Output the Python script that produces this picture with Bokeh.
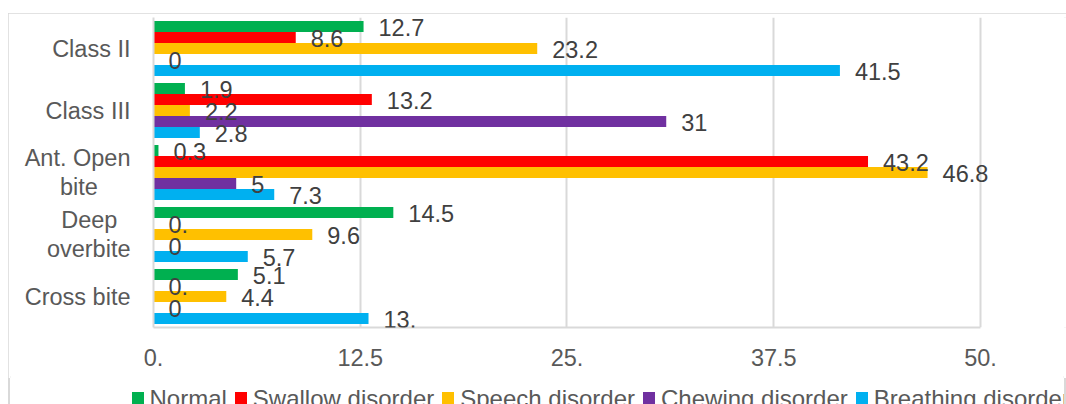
from bokeh.plotting import figure
from bokeh.layouts import column
from bokeh.models import (FactorRange, Range1d, FixedTicker, ColumnDataSource, LabelSet, Div)
from bokeh.transform import dodge
from bokeh.core.properties import value
from bokeh.embed import file_html
from bokeh.resources import INLINE

# ---- data ----
categories = ["Class II", "Class III", "Ant. Open\nbite     ", "Deep  \noverbite", "Cross bite"]
series = ["Normal", "Swallow disorder", "Speech disorder", "Chewing disorder", "Breathing disorder"]
colors = ["#00B050", "#FF0000", "#FFC000", "#7030A0", "#00B0F0"]

normal = [12.7, 1.9, 0.3, 14.5, 5.1]
swallow = [8.6, 13.2, 43.2, 0, 0]
speech = [23.2, 2.2, 46.8, 9.6, 4.4]
chewing = [0, 31, 5, 0, 0]
breathing = [41.5, 2.8, 7.3, 5.7, 13]

normal_labels = ["12.7", "1.9", "0.3", "14.5", "5.1"]
swallow_labels = ["8.6", "13.2", "43.2", "0.", "0."]
speech_labels = ["23.2", "2.2", "46.8", "9.6", "4.4"]
chewing_labels = ["0", "31", "5", "0", "0"]
breathing_labels = ["41.5", "2.8", "7.3", "5.7", "13."]

x_ticks = [0, 12.5, 25, 37.5, 50]
x_tick_labels = ["0.", "12.5", "25.", "37.5", "50."]

values = [normal, swallow, speech, chewing, breathing]
labels = [normal_labels, swallow_labels, speech_labels, chewing_labels, breathing_labels]

FONT = "Liberation Sans"
FS = "23.5px"
GRID = "#d9d9d9"

# ---- main plot ----
p = figure(width=1058, height=365, output_backend="svg", toolbar_location=None,
           y_range=FactorRange(factors=categories[::-1]), x_range=Range1d(0, 55.2),
           min_border_left=145, min_border_right=0, min_border_top=4, min_border_bottom=51)
p.outline_line_color = None
p.background_fill_color = "white"
p.border_fill_color = "white"
# chart-area border: top/left/right drawn around the plot element, bottom edge hidden
p.styles = {"outline": "2.5px solid #d9d9d9", "outline-offset": "-2.5px",
            "clip-path": ("polygon(0px 0px, 100% 0px, 100% 100%, calc(100% - 2.5px) 100%, "
                          "calc(100% - 2.5px) calc(100% - 2.5px), 2.5px calc(100% - 2.5px), "
                          "2.5px 100%, 0px 100%)")}

bar_h = 11 / 62
for i, (name, col, vals, labs) in enumerate(zip(series, colors, values, labels)):
    off = (2 - i) * bar_h
    src = ColumnDataSource(dict(cat=categories, v=vals, lbl=labs))
    p.hbar(y=dodge("cat", off, range=p.y_range), left=0, right="v", height=bar_h,
           source=src, fill_color=col, line_color=None, legend_label=name)
    p.add_layout(LabelSet(x="v", y=dodge("cat", off, range=p.y_range), text="lbl", source=src,
                          x_offset=15, y_offset=-1, text_align="left", text_baseline="middle",
                          text_font=value(FONT), text_font_size=FS, text_color="#404040"))
# the legend is shown as a strip below the plot (see Div); hide the in-frame one
p.legend.visible = False

p.xaxis.ticker = FixedTicker(ticks=x_ticks)
p.xaxis.bounds = (0, 50)
p.xaxis.major_label_overrides = dict(zip(x_ticks, x_tick_labels))
p.xaxis.axis_line_color = GRID
p.xaxis.axis_line_width = 2
p.xaxis.major_tick_line_color = None
p.xaxis.minor_tick_line_color = None
p.xaxis.major_label_standoff = 15
p.xaxis.major_label_text_font = FONT
p.xaxis.major_label_text_font_size = FS
p.xaxis.major_label_text_color = "#595959"

p.yaxis.axis_line_color = GRID
p.yaxis.axis_line_width = 2
p.yaxis.major_tick_line_color = None
p.yaxis.minor_tick_line_color = None
p.yaxis.major_label_standoff = 17
p.yaxis.major_label_text_font = FONT
p.yaxis.major_label_text_font_size = FS
p.yaxis.major_label_text_color = "#595959"
p.yaxis.major_label_text_line_height = 1.08

p.xgrid.ticker = FixedTicker(ticks=x_ticks)
p.xgrid.grid_line_color = GRID
p.xgrid.grid_line_width = 2
p.ygrid.grid_line_color = None

# ---- legend strip ----
item_html = "".join(
    f'<span style="display:inline-flex;align-items:center;margin-right:8px">'
    f'<span style="display:inline-block;width:12px;height:12px;background:{c};margin-right:6px"></span>'
    f'{n}</span>'
    for n, c in zip(series, colors))
legend_html = (f'<div style="box-sizing:border-box;width:1058px;height:26px;overflow:hidden;'
               f'border-left:2.5px solid {GRID};border-right:2.5px solid {GRID};'
               f'padding-left:121.5px;padding-top:4px;font-family:\'{FONT}\';font-size:24px;'
               f'line-height:27px;color:#595959;white-space:nowrap">{item_html}</div>')
legend_div = Div(text=legend_html, width=1058, height=26, margin=0,
                 styles={"overflow": "hidden"})

layout = column(p, legend_div, spacing=0,
                styles={"margin-top": "13px", "margin-left": "8px"})

open("out.html", "w").write(file_html(layout, INLINE))
